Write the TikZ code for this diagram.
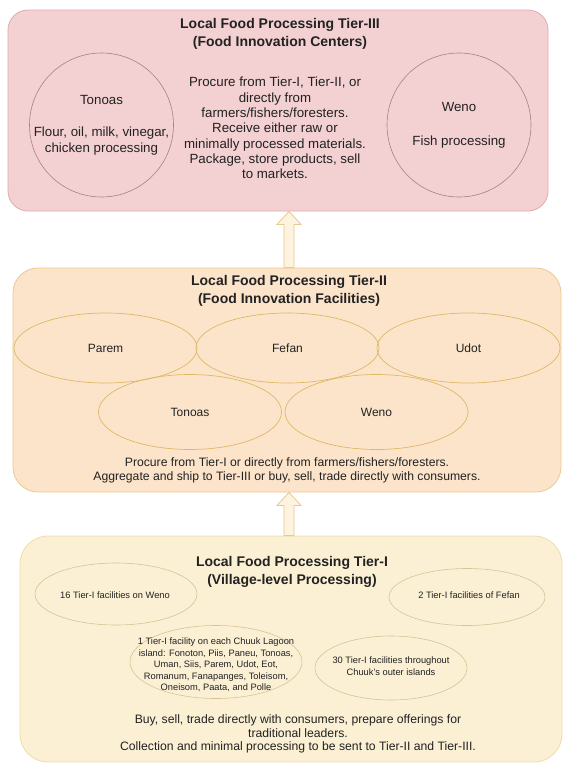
\documentclass[tikz,border=0pt]{standalone}
\usepackage{fontspec}
\setmainfont{Liberation Sans}
\usetikzlibrary{shapes.geometric,calc}
\definecolor{pinkfill}{RGB}{243,208,210}
\definecolor{pinkline}{RGB}{226,170,175}
\definecolor{pinkring}{RGB}{170,128,128}
\definecolor{peachfill}{RGB}{252,228,203}
\definecolor{peachline}{RGB}{236,201,140}
\definecolor{goldring}{RGB}{222,184,100}
\definecolor{creamfill}{RGB}{251,240,212}
\definecolor{creamline}{RGB}{238,220,170}
\definecolor{tanring}{RGB}{214,196,150}
\definecolor{arrowfill}{RGB}{253,243,222}
\definecolor{arrowline}{RGB}{232,202,145}
\definecolor{inkgray}{RGB}{34,34,34}

\begin{document}
\begin{tikzpicture}[x=1pt,y=-1pt,text=inkgray,
  tier/.style={draw,line width=0.8pt,rounded corners=20pt},
  head/.style={align=center,font=\fontsize{14}{18}\selectfont\bfseries},
  body/.style={align=center,font=\fontsize{13.3}{15.3}\selectfont},
  small/.style={align=center,font=\fontsize{12.2}{14}\selectfont},
  tiny/.style={align=center,font=\fontsize{9.3}{11.6}\selectfont},
  spot/.style={circle,draw=pinkring,line width=0.6pt,minimum size=144pt,inner sep=0pt},
  site/.style={ellipse,draw=goldring,line width=0.7pt,inner sep=0pt,font=\fontsize{12}{14}\selectfont},
  plot/.style={ellipse,draw=tanring,line width=0.6pt,inner sep=0pt},
  lift/.style={draw=arrowline,fill=arrowfill,line width=0.8pt,
    to path={let \p1=(\tikztostart),\p2=(\tikztotarget) in
      (\x1-5pt,\y1) -- (\x1-5pt,\y2-13pt) -- (\x1-12pt,\y2-13pt) -- (\x1,\y2)
      -- (\x1+12pt,\y2-13pt) -- (\x1+5pt,\y2-13pt) -- (\x1+5pt,\y1) -- cycle}}]
\useasboundingbox (0,0) rectangle (563,766);
\coordinate (axis) at (289,0);

\node[tier,fill=pinkfill,draw=pinkline,minimum width=540pt,minimum height=201pt] (tierC) at (278,110.5) {};
\node[head] (headC) at (280,34) {Local Food Processing Tier-III\\(Food Innovation Centers)};
\node[spot] (tonoasC) at (101.5,125) {};
\node[body] (tonoasCtxt) at (tonoasC) {Tonoas\\[17.5pt]Flour, oil, milk, vinegar,\\chicken processing};
\node[spot] (wenoC) at (459,125) {};
\node[body] (wenoCtxt) at (wenoC) {Weno\\[18.5pt]Fish processing};
\node[body] (procC) at (275,128) {Procure from Tier-I, Tier-II, or\\directly from\\farmers/fishers/foresters.\\Receive either raw or\\minimally processed materials.\\Package, store products, sell\\to markets.};

\node[tier,fill=peachfill,draw=peachline,minimum width=548pt,minimum height=224pt,rounded corners=25pt] (tierB) at (287,380) {};
\node[head] (headB) at (289,291) {Local Food Processing Tier-II\\(Food Innovation Facilities)};
\node[site,minimum width=183pt,minimum height=70pt] (paremB) at (105.5,348) {Parem};
\node[site,minimum width=183pt,minimum height=70pt] (fefanB) at (287.5,348) {Fefan};
\node[site,minimum width=183pt,minimum height=70pt] (udotB) at (468.5,348) {Udot};
\node[site,minimum width=183pt,minimum height=75pt] (tonoasB) at (190,412) {Tonoas};
\node[site,minimum width=183pt,minimum height=75pt] (wenoB) at (376.5,412) {Weno};
\node[small] (procB) at (287,470) {Procure from Tier-I or directly from farmers/fishers/foresters.\\Aggregate and ship to Tier-III or buy, sell, trade directly with consumers.};

\node[tier,fill=creamfill,draw=creamline,minimum width=542pt,minimum height=226pt,rounded corners=28pt] (tierA) at (291,649) {};
\node[head] (headA) at (292,572) {Local Food Processing Tier-I\\(Village-level Processing)};
\node[plot,minimum width=162pt,minimum height=62pt] (wenoA) at (116,594) {};
\node[tiny] (wenoAtxt) at (115,595) {16 Tier-I facilities on Weno};
\node[plot,minimum width=156pt,minimum height=57pt] (fefanA) at (467,597) {};
\node[tiny] (fefanAtxt) at (469,595) {2 Tier-I facilities of Fefan};
\node[plot,minimum width=172pt,minimum height=73pt] (lagoonA) at (216,662) {};
\node[tiny] (lagoonAtxt) at (216,665) {1 Tier-I facility on each Chuuk Lagoon\\island: Fonoton, Piis, Paneu, Tonoas,\\Uman, Siis, Parem, Udot, Eot,\\Romanum, Fanapanges, Toleisom,\\Oneisom, Paata, and Polle};
\node[plot,minimum width=152pt,minimum height=64pt] (outerA) at (391,668) {};
\node[tiny] (outerAtxt) at (391,666) {30 Tier-I facilities throughout\\Chuuk's outer islands};
\node[small,font=\fontsize{12.2}{13.2}\selectfont] (procA) at (298,734) {Buy, sell, trade directly with consumers, prepare offerings for\\traditional leaders.\\Collection and minimal processing to be sent to Tier-II and Tier-III.};

\draw[lift] (tierB.north -| axis) to (tierC.south -| axis);
\draw[lift] (tierA.north -| axis) to (tierB.south -| axis);
\end{tikzpicture}
\end{document}
